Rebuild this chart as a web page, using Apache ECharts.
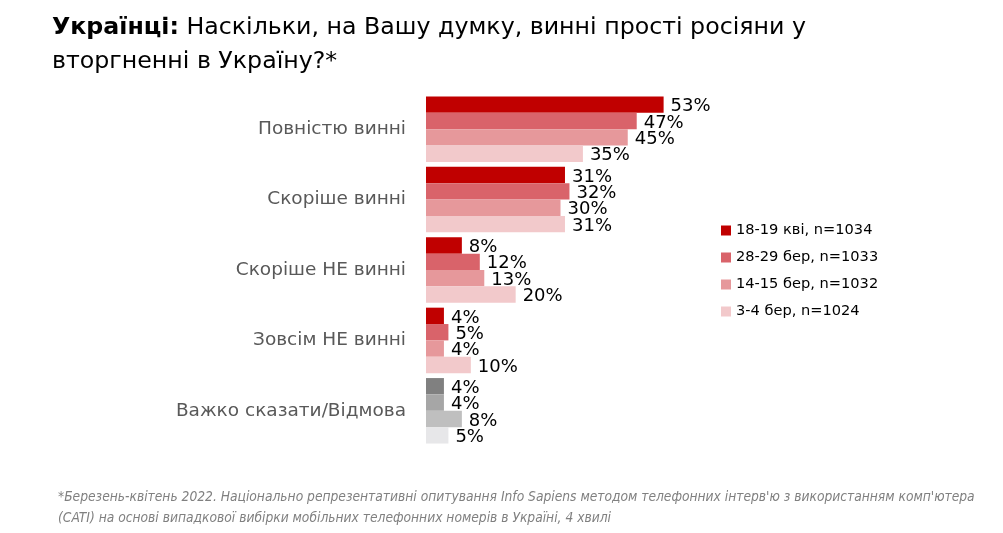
<!DOCTYPE html>
<html><head><meta charset="utf-8">
<script src="https://cdn.jsdelivr.net/npm/echarts@6/dist/echarts.min.js"></script>
<style>html,body{margin:0;padding:0;background:#fff;}#c{width:1003px;height:533px;}</style>
</head><body><div id="c"></div>
<script>
const categories = ['Повністю винні','Скоріше винні','Скоріше НЕ винні','Зовсім НЕ винні','Важко сказати/Відмова'];
const seriesNames = ['18-19 кві, n=1034','28-29 бер, n=1033','14-15 бер, n=1032','3-4 бер, n=1024'];
const s1 = [53,31,8,4,4];
const s2 = [47,32,12,5,4];
const s3 = [45,30,13,4,8];
const s4 = [35,31,20,10,5];
const values = [s1,s2,s3,s4];
const colors = ['#C00000','#D9636A','#E6989B','#F2C9CB'];
const grays = ['#808080','#A6A6A6','#BFBFBF','#E7E7E9'];

const chart = echarts.init(document.getElementById('c'));
const font = 'DejaVu Sans';
const series = values.map((vals,i)=>({
  name: seriesNames[i], type:'bar', barGap:'0%', barCategoryGap:'7%',
  itemStyle:{color:colors[i]},
  label:{show:true, position:'right', distance:7, offset:[0,2], formatter:'{c}%', color:'#000', fontSize:18, fontFamily:font},
  data: vals.map((v,j)=> j===categories.length-1 ? {value:v, itemStyle:{color:grays[i]}} : v)
}));
chart.setOption({
  animation:false,
  textStyle:{fontFamily:font},
  title:{
    left:52, top:11, padding:0,
    text:'{b|Українці:} Наскільки, на Вашу думку, винні прості росіяни у\nвторгненні в Україну?*',
    textStyle:{fontSize:23.7, fontWeight:'normal', color:'#000', fontFamily:font, lineHeight:34,
      rich:{b:{fontWeight:'bold', fontSize:23.7, color:'#000', fontFamily:font, lineHeight:34}}}
  },
  legend:{
    orient:'vertical', left:716, top:218, itemWidth:10, itemHeight:10, itemGap:12,
    icon:'rect', data:seriesNames,
    textStyle:{fontSize:14.6, color:'#000', fontFamily:font}
  },
  grid:{left:426, top:94, width:269, height:352, containLabel:false},
  xAxis:{type:'value', min:0, max:60, show:false},
  yAxis:{type:'category', data:categories, inverse:true,
    axisLine:{show:false}, axisTick:{show:false},
    axisLabel:{fontSize:18.5, color:'#595959', margin:20, fontFamily:font}},
  series: series,
  graphic:[{type:'text', left:58, top:487, style:{
    text:"*Березень-квітень 2022. Національно репрезентативні опитування Info Sapiens методом телефонних інтерв'ю з використанням комп'ютера\n(CATI) на основі випадкової вибірки мобільних телефонних номерів в Україні, 4 хвилі",
    font:'italic 13.7px "DejaVu Sans Condensed", "DejaVu Sans"', fill:'#808080', lineHeight:21}}]
});
</script></body></html>
